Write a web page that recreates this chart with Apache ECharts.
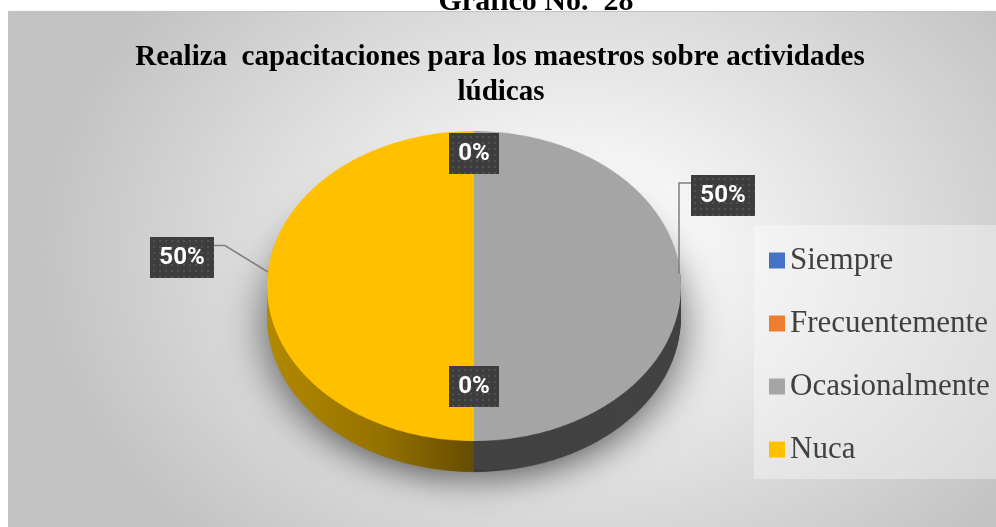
<!DOCTYPE html>
<html>
<head>
<meta charset="utf-8">
<script src="https://cdn.jsdelivr.net/npm/echarts@6/dist/echarts.min.js"></script>
<style>
html, body { margin: 0; padding: 0; width: 996px; height: 527px; overflow: hidden; background: #ffffff; }
#pie { position: absolute; left: 0; top: 0; width: 996px; height: 710px; transform-origin: 0 0; }
#front { position: absolute; left: 0; top: 0; width: 996px; height: 527px; }
</style>
</head>
<body>
<div id="pie"></div>
<div id="front"></div>
<script>
// ---------- data ----------
const categories = ['Siempre', 'Frecuentemente', 'Ocasionalmente', 'Nuca'];
const values = [0, 0, 50, 50];
const titleLines = ['Realiza  capacitaciones para los maestros sobre actividades', 'lúdicas'];
const figureCaption = 'Gráfico No.  28';

// ---------- style ----------
const topColors = ['#4472C4', '#ED7D31', '#A5A5A5', '#FFC000'];
const sideColors = [
  '#2b4a80', '#9a501f', '#424242',
  new echarts.graphic.LinearGradient(0, 0, 1, 0, [
    { offset: 0, color: '#b38900' },
    { offset: 0.55, color: '#957200' },
    { offset: 1, color: '#664c00' }
  ])
];
const CX = 474, CY = 286, RX = 207, RY = 155, DEPTH = 31;
const S = RY / RX;
document.getElementById('pie').style.transform = 'scaleY(' + S + ')';

// label placement (style, not data)
const LABEL_LAYOUT = [
  { x: 474, y: 153.5 },
  { x: 474, y: 386.5 },
  { x: 723, y: 195.5, line: [[679, 274], [679, 183], [691, 183]] },
  { x: 182, y: 257.5, line: [[268, 272], [225, 245.5], [214, 245.5]] }
];

// dotted pattern images for label boxes (one per box width)
function dotted(w, h) {
  const c = document.createElement('canvas');
  c.width = w; c.height = h;
  const g = c.getContext('2d');
  g.fillStyle = '#3d3d3d'; g.fillRect(0, 0, w, h);
  g.fillStyle = '#515151';
  for (let y = 3; y < h; y += 6) for (let x = 3; x < w; x += 6) g.fillRect(x, y, 2, 2);
  return c;
}
const wideBox = { width: 46, padding: [8, 9], backgroundColor: { image: dotted(64, 41) } };
const narrowBox = { width: 34, padding: [8, 8], backgroundColor: { image: dotted(50, 41) } };

// ---------- pie body (vertically squashed layer) ----------
const pieChart = echarts.init(document.getElementById('pie'), null, { renderer: 'canvas' });
const pieSeries = [];
const STEPS = 16;
for (let k = STEPS; k >= 1; k--) {
  pieSeries.push({
    type: 'pie', silent: true, startAngle: 90, clockwise: true,
    center: [CX, CY / S + (DEPTH / S) * k / STEPS], radius: RX,
    label: { show: false }, labelLine: { show: false },
    itemStyle: k === STEPS
      ? { borderWidth: 0, shadowBlur: 45, shadowColor: 'rgba(0,0,0,0.6)', shadowOffsetY: 10 }
      : { borderWidth: 0 },
    data: categories.map((n, i) => ({ name: n, value: values[i], itemStyle: { color: sideColors[i] } }))
  });
}
pieSeries.push({
  type: 'pie', silent: true, startAngle: 90, clockwise: true,
  center: [CX, CY / S], radius: RX,
  label: { show: false }, labelLine: { show: false },
  itemStyle: { borderWidth: 0 },
  data: categories.map((n, i) => ({ name: n, value: values[i], itemStyle: { color: topColors[i] } }))
});
pieChart.setOption({
  animation: false,
  backgroundColor: 'transparent',
  graphic: [{
    type: 'rect', silent: true, z: -10,
    shape: { x: 8, y: 11 / S, width: 1000, height: 700 },
    style: {
      fill: new echarts.graphic.RadialGradient(0.57, 0.46, 0.78, [
        { offset: 0, color: '#ffffff' },
        { offset: 0.15, color: '#fafafa' },
        { offset: 1, color: '#c2c2c2' }
      ])
    }
  }],
  series: pieSeries
});

// ---------- front layer: titles, legend, labels ----------
const front = echarts.init(document.getElementById('front'), null, { renderer: 'canvas' });
const serif = "'Liberation Serif', 'Times New Roman', serif";
front.setOption({
  animation: false,
  backgroundColor: 'transparent',
  title: [
    { text: figureCaption, left: 536, top: -13, padding: 0, textAlign: 'center',
      textStyle: { fontFamily: serif, fontWeight: 'bold', fontSize: 30, lineHeight: 30, color: '#000' } },
    { text: titleLines[0], left: 500, top: 43, padding: 0, textAlign: 'center',
      textStyle: { fontFamily: serif, fontWeight: 'bold', fontSize: 29, lineHeight: 29, color: '#000' } },
    { text: titleLines[1], left: 501, top: 78, padding: 0, textAlign: 'center',
      textStyle: { fontFamily: serif, fontWeight: 'bold', fontSize: 29, lineHeight: 29, color: '#000' } }
  ],
  graphic: [{
    type: 'rect', silent: true,
    shape: { x: 8.5, y: 11.5, width: 1000, height: 600 },
    style: { fill: 'none', stroke: '#c4c4c4', lineWidth: 1 }
  }],
  legend: {
    orient: 'vertical', left: 754, top: 225,
    padding: [20, 30, 14, 15],
    backgroundColor: 'rgba(255,255,255,0.35)',
    itemWidth: 16, itemHeight: 16, itemGap: 32, icon: 'rect',
    selectedMode: false,
    textStyle: { fontFamily: serif, fontSize: 31, lineHeight: 31, color: '#404040' },
    data: categories.map((n, i) => ({ name: n, itemStyle: { color: topColors[i] } }))
  },
  series: [{
    type: 'pie', silent: true, startAngle: 90, clockwise: true,
    center: [CX, CY], radius: RX,
    avoidLabelOverlap: false,
    itemStyle: { color: 'rgba(0,0,0,0)', borderWidth: 0 },
    label: {
      show: true, position: 'outside', overflow: 'none',
      formatter: p => Math.round(p.percent) + '%',
      color: '#ffffff', fontFamily: "Roboto, 'Open Sans', sans-serif",
      fontWeight: 'bold', fontSize: 24, lineHeight: 25, align: 'center',
      shadowBlur: 6, shadowColor: 'rgba(0,0,0,0.5)', shadowOffsetX: 2, shadowOffsetY: 3
    },
    labelLine: { show: true, lineStyle: { color: '#7f7f7f', width: 1.5 } },
    labelLayout: function (p) {
      const L = LABEL_LAYOUT[p.dataIndex];
      const out = { x: L.x, y: L.y, align: 'center', verticalAlign: 'middle' };
      if (L.line) out.labelLinePoints = L.line;
      return out;
    },
    data: categories.map((n, i) => ({
      name: n, value: values[i],
      label: values[i] >= 10 ? wideBox : narrowBox,
      labelLine: { show: values[i] > 0 }
    }))
  }]
});
</script>
</body>
</html>
